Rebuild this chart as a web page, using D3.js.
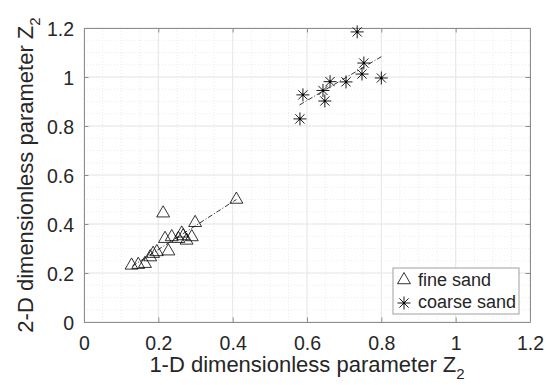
<!DOCTYPE html>
<meta charset="utf-8">
<style>
body { margin: 0; background: #fff; }
text { font-family: "Liberation Sans", Arial, Helvetica, sans-serif; fill: #262626; }
.grid-major line { stroke: #e6e6e6; stroke-width: 1; }
.grid-minor line { stroke: #ececec; stroke-width: 1; stroke-dasharray: 1,2; }
.axis path, .axis line { stroke: #8c8c8c; }
</style>
<body>
<script src="https://d3js.org/d3.v7.min.js"></script>
<script>

var width = 546,
    height = 385,
    margin = {top: 28, right: 16, bottom: 63, left: 84};

var w = width - margin.left - margin.right,
    h = height - margin.top - margin.bottom;

// fine sand (triangles)
var fineX = [0.128, 0.146, 0.164, 0.178, 0.186, 0.196, 0.227, 0.218, 0.236, 0.254, 0.267, 0.263, 0.276, 0.290, 0.299, 0.213, 0.410];
var fineY = [0.231, 0.234, 0.238, 0.265, 0.279, 0.286, 0.289, 0.340, 0.347, 0.340, 0.351, 0.362, 0.333, 0.347, 0.405, 0.444, 0.500];

// coarse sand (stars)
var coarseX = [0.735, 0.753, 0.748, 0.800, 0.662, 0.705, 0.589, 0.643, 0.648, 0.581];
var coarseY = [1.184, 1.057, 1.012, 0.996, 0.981, 0.980, 0.927, 0.945, 0.902, 0.829];

// dash-dot fit lines (end points)
var fineFitX = [0.13, 0.41],   fineFitY = [0.228, 0.500];
var coarseFitX = [0.58, 0.80], coarseFitY = [0.886, 1.083];

var ticks = [0, 0.2, 0.4, 0.6, 0.8, 1, 1.2];
var minorTicks = d3.range(0, 1.2001, 0.05);
var legendLabels = ["fine sand", "coarse sand"];

var svg = d3.select("body").append("svg")
    .attr("width", width)
    .attr("height", height);

var g = svg.append("g")
    .attr("transform", "translate(" + margin.left + "," + margin.top + ")");

var x = d3.scaleLinear().domain([0, 1.2]).range([0, w]);
var y = d3.scaleLinear().domain([0, 1.2]).range([h, 0]);

// grids
var minor = g.append("g").attr("class", "grid-minor");
minor.selectAll(null).data(minorTicks).enter().append("line")
    .attr("x1", d => x(d)).attr("x2", d => x(d)).attr("y1", 0).attr("y2", h);
minor.selectAll(null).data(minorTicks).enter().append("line")
    .attr("y1", d => y(d)).attr("y2", d => y(d)).attr("x1", 0).attr("x2", w);

var major = g.append("g").attr("class", "grid-major");
major.selectAll(null).data(ticks).enter().append("line")
    .attr("x1", d => x(d)).attr("x2", d => x(d)).attr("y1", 0).attr("y2", h);
major.selectAll(null).data(ticks).enter().append("line")
    .attr("y1", d => y(d)).attr("y2", d => y(d)).attr("x1", 0).attr("x2", w);

// axes (box with inward ticks)
var fmt = d => d === 0 ? "0" : d3.format("")(d);
var tl = 4.5;

var xAxis = g.append("g").attr("class", "axis")
    .attr("transform", "translate(0," + h + ")")
    .call(d3.axisBottom(x).tickValues(ticks).tickFormat(fmt).tickSizeInner(-tl).tickSizeOuter(0).tickPadding(14));
var yAxis = g.append("g").attr("class", "axis")
    .call(d3.axisLeft(y).tickValues(ticks).tickFormat(fmt).tickSizeInner(-tl).tickSizeOuter(0).tickPadding(10));
g.append("g").attr("class", "axis")
    .call(d3.axisTop(x).tickValues(ticks).tickFormat("").tickSizeInner(-tl).tickSizeOuter(0));
g.append("g").attr("class", "axis")
    .attr("transform", "translate(" + w + ",0)")
    .call(d3.axisRight(y).tickValues(ticks).tickFormat("").tickSizeInner(-tl).tickSizeOuter(0));

g.selectAll(".axis text")
    .style("font-size", "19.5px")
    .style("font-family", "'Liberation Sans', Arial, sans-serif")
    .attr("fill", "#262626");
yAxis.selectAll("text").attr("dy", "0.36em");

// fit lines
var line = d3.line().x(d => x(d[0])).y(d => y(d[1]));
g.append("path")
    .datum(d3.zip(fineFitX, fineFitY))
    .attr("d", line).attr("fill", "none").attr("stroke", "#000")
    .attr("stroke-width", 0.8).attr("stroke-dasharray", "5,2,1,2");
g.append("path")
    .datum(d3.zip(coarseFitX, coarseFitY))
    .attr("d", line).attr("fill", "none").attr("stroke", "#000")
    .attr("stroke-width", 0.8).attr("stroke-dasharray", "5,2,1,2");

// markers
var tri = d3.symbol().type(d3.symbolTriangle).size(72);
function star(sel, r) {
    [0, 45, 90, 135].forEach(function(a) {
        var rad = a * Math.PI / 180;
        sel.append("line")
            .attr("x1", -r * Math.cos(rad)).attr("y1", -r * Math.sin(rad))
            .attr("x2", r * Math.cos(rad)).attr("y2", r * Math.sin(rad))
            .attr("stroke", "#000").attr("stroke-width", 0.9);
    });
    sel.append("circle").attr("r", 1.3).attr("fill", "#000");
}

g.selectAll(".tri")
    .data(d3.zip(fineX, fineY))
  .enter().append("path")
    .attr("class", "tri")
    .attr("transform", d => "translate(" + x(d[0]) + "," + y(d[1]) + ")")
    .attr("d", tri)
    .attr("fill", "none").attr("stroke", "#000").attr("stroke-width", 0.8);

g.selectAll(".star")
    .data(d3.zip(coarseX, coarseY))
  .enter().append("g")
    .attr("class", "star")
    .attr("transform", d => "translate(" + x(d[0]) + "," + y(d[1]) + ")")
    .each(function() { star(d3.select(this), 6.5); });

// axis labels
var xl = svg.append("text")
    .attr("x", margin.left + w / 2)
    .attr("y", 372)
    .attr("text-anchor", "middle")
    .style("font-size", "22px");
xl.append("tspan").text("1-D dimensionless parameter Z");
xl.append("tspan").attr("dy", 7).style("font-size", "15px").text("2");

var yl = svg.append("text")
    .attr("transform", "translate(33," + (margin.top + h / 2) + ") rotate(-90)")
    .attr("text-anchor", "middle")
    .style("font-size", "22px");
yl.append("tspan").text("2-D dimensionless parameter Z");
yl.append("tspan").attr("dy", 7).style("font-size", "15px").text("2");

// legend
var lg = svg.append("g").attr("transform", "translate(393,268)");
lg.append("rect")
    .attr("width", 126).attr("height", 46)
    .attr("fill", "#fff").attr("stroke", "#a0a0a0").attr("stroke-width", 1);
lg.append("path")
    .attr("transform", "translate(11,12)")
    .attr("d", tri).attr("fill", "none").attr("stroke", "#000").attr("stroke-width", 0.8);
star(lg.append("g").attr("transform", "translate(11,35)"), 6.5);
lg.selectAll(".lt").data(legendLabels).enter().append("text")
    .attr("x", 25)
    .attr("y", (d, i) => 18 + i * 22)
    .style("font-size", "18px")
    .text(d => d);

</script>
</body>
